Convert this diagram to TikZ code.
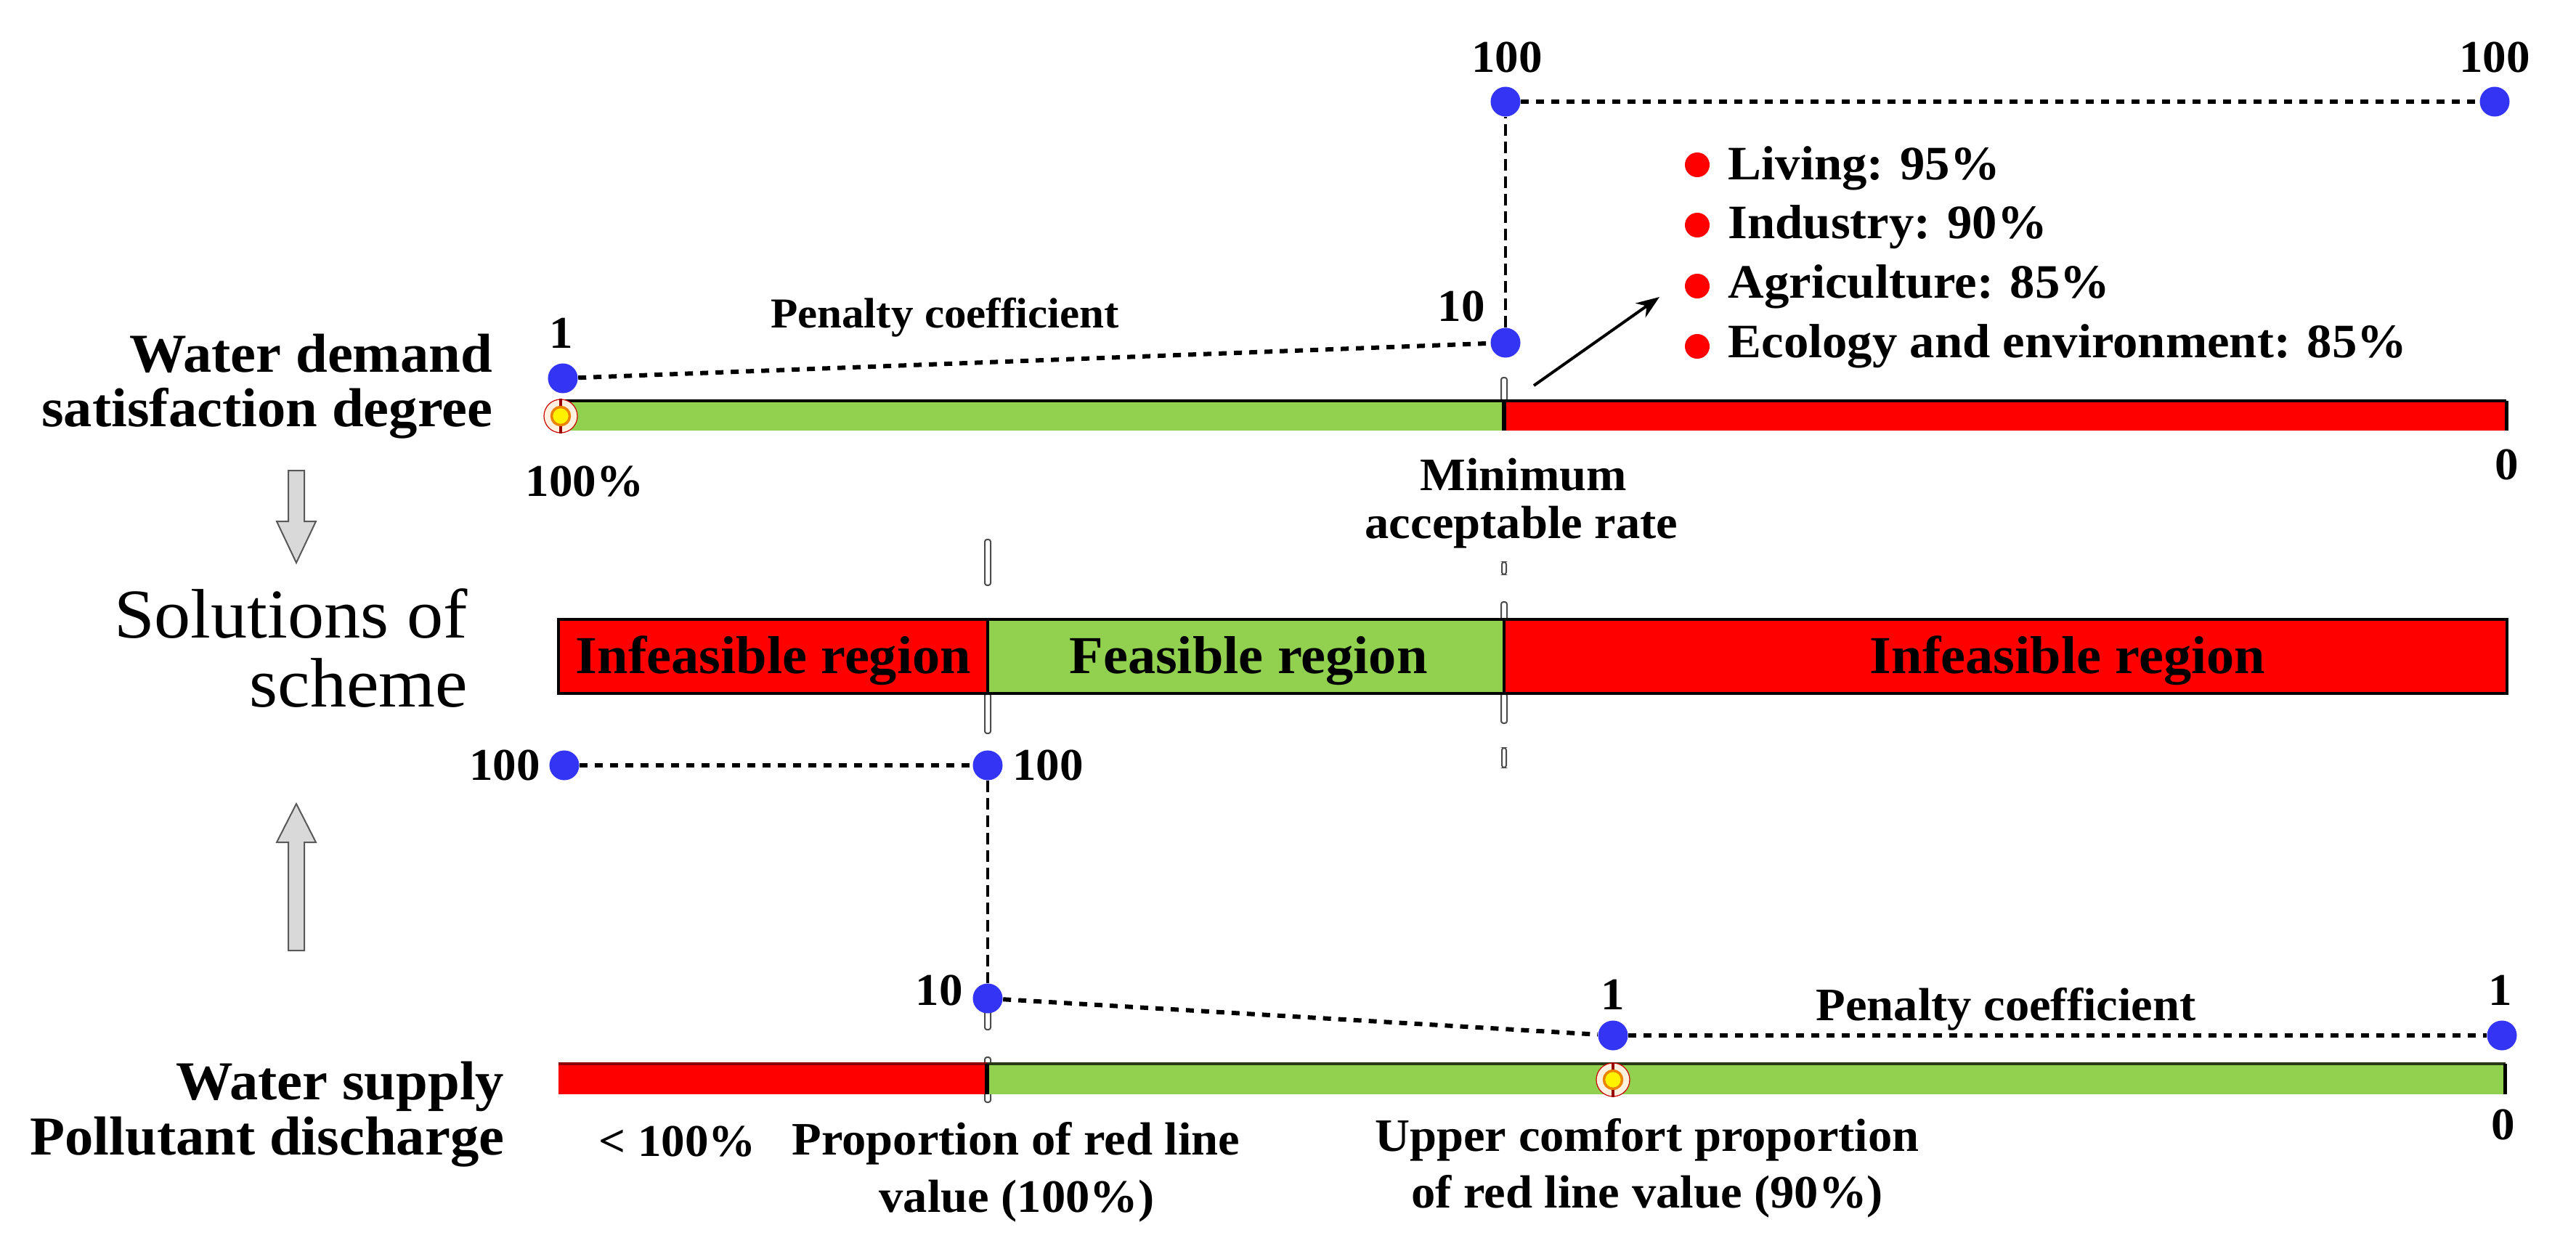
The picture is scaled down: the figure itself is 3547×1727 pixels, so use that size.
\documentclass[tikz,border=0pt]{standalone}
\usepackage{fontspec}
\setmainfont{Liberation Serif}[FakeStretch=1.04]
\usetikzlibrary{arrows.meta}
\definecolor{dotblue}{RGB}{52,52,245}
\definecolor{bargreen}{RGB}{146,208,80}
\definecolor{barred}{RGB}{255,0,0}
\definecolor{mkorange}{RGB}{235,130,0}
\definecolor{arrgrey}{RGB}{217,217,217}
\begin{document}
\begin{tikzpicture}[x=0.01cm,y=-0.01cm,
  num/.style={font=\bfseries\fontsize{17.8}{20}\selectfont, inner sep=0, anchor=base},
  lbl/.style={font=\bfseries\fontsize{18.2}{20}\selectfont, inner sep=0, anchor=base},
  bul/.style={font=\bfseries\fontsize{18.8}{20}\selectfont, inner sep=0, anchor=base west},
  side/.style={font=\bfseries\fontsize{21.5}{24}\selectfont, inner sep=0, anchor=base east},
  big/.style={font=\fontsize{27.4}{30}\selectfont, inner sep=0, anchor=base east},
  reg/.style={font=\bfseries\fontsize{20.9}{24}\selectfont, inner sep=0, anchor=base},
  bdot/.style={circle, fill=dotblue, inner sep=0, minimum size=0.41cm},
  rdot/.style={circle, fill=barred, inner sep=0, minimum size=0.34cm},
  dotline/.style={line width=0.06cm, dash pattern=on 0.11cm off 0.10cm},
  vdash/.style={line width=0.04cm, dash pattern=on 0.16cm off 0.08cm},
  tickrect/.style={fill=white, draw=black!70, line width=0.02cm, rounded corners=0.03cm},
  seg/.style={inner sep=0, outer sep=0},
  mkout/.style={circle, draw=red!80!black, line width=0.012cm, minimum size=0.46cm, inner sep=0, fill=orange!12},
  mkin/.style={circle, draw=mkorange, line width=0.035cm, fill=yellow, minimum size=0.25cm, inner sep=0},
  blockarrow/.style={fill=arrgrey, draw=black!65, line width=0.02cm}
]
\useasboundingbox (0,0) rectangle (3547,1727);

% ---------- tick rectangles (divider extensions) ----------
\draw[tickrect] (2067,520) rectangle (2075,552);
\draw[tickrect] (2068,774) rectangle (2074,791);
\draw[tickrect] (2067,829) rectangle (2075,854);
\draw[tickrect] (2067,955) rectangle (2075,996);
\draw[tickrect] (2068,1030) rectangle (2074,1057);
\draw[tickrect] (1356,743) rectangle (1364,806);
\draw[tickrect] (1356,955) rectangle (1364,1010);
\draw[tickrect] (1356,1378) rectangle (1364,1418);
\draw[tickrect] (1356,1456) rectangle (1364,1518);

% ---------- top bar ----------
\node[seg, fill=bargreen, minimum width=13.00cm, minimum height=0.41cm] (tbG) at (1421,572.5) {};
\node[seg, fill=barred, minimum width=13.80cm, minimum height=0.41cm] (tbR) at (2761,572.5) {};
\draw[line width=0.04cm] (tbG.north west) -- (tbR.north east);
\draw[line width=0.05cm] (tbR.north east) -- (tbR.south east);
\draw[line width=0.06cm] (tbR.north west) -- (tbR.south west);
\draw[line width=0.05cm, red!60!black] (tbG.north west) -- (tbG.south west);

% ---------- middle bar ----------
\node[seg, draw=black, line width=0.04cm, fill=barred, minimum width=5.91cm, minimum height=1.02cm] (mbL) at (1064.5,904) {};
\node[seg, draw=black, line width=0.04cm, fill=bargreen, minimum width=7.11cm, minimum height=1.02cm] (mbM) at (1715.5,904) {};
\node[seg, draw=black, line width=0.04cm, fill=barred, minimum width=13.81cm, minimum height=1.02cm] (mbR) at (2761.5,904) {};
\node[reg] (r1) at (1065,927) {Infeasible region};
\node[reg] (r2) at (1719,927) {Feasible region};
\node[reg] (r3) at (2847,927) {Infeasible region};

% ---------- bottom bar ----------
\node[seg, fill=barred, minimum width=5.91cm, minimum height=0.42cm] (bbR) at (1064.5,1486) {};
\node[seg, fill=bargreen, minimum width=20.89cm, minimum height=0.42cm] (bbG) at (2404.5,1486) {};
\draw[line width=0.04cm, red!55!black] (bbR.north west) -- (bbR.north east);
\draw[line width=0.04cm, black!55!bargreen!60!black] (bbG.north west) -- (bbG.north east);
\draw[line width=0.05cm] (bbG.north east) -- (bbG.south east);
\draw[line width=0.06cm] (bbG.north west) -- (bbG.south west);

% ---------- markers ----------
\node[mkout] (mk1o) at (772,573) {};
\node[mkin] (mk1) at (772,573) {};
\draw[line width=0.04cm, red!60!black] (mk1o.north) -- (mk1.north);
\draw[line width=0.04cm, red!60!black] (mk1.south) -- (mk1o.south);
\node[mkout] (mk2o) at (2221,1487) {};
\node[mkin] (mk2) at (2221,1487) {};
\draw[line width=0.04cm, red!60!black] (mk2o.north) -- (mk2.north);
\draw[line width=0.04cm, red!60!black] (mk2.south) -- (mk2o.south);

% ---------- top penalty curve ----------
\node[bdot] (t1) at (775,521) {};
\node[bdot] (t10) at (2073,472) {};
\node[bdot] (t100a) at (2073,140) {};
\node[bdot] (t100b) at (3435,140) {};
\draw[dotline] (t1) -- (t10);
\draw[vdash] (t10) -- (t100a);
\draw[dotline] (t100a) -- (t100b);
\node[num] (lt1) at (773,479) {1};
\node[num] (lt10) at (2012,442) {10};
\node[num] (lt100a) at (2075,100) {100};
\node[num] (lt100b) at (3435,100) {100};
\node[font=\bfseries\fontsize{16.7}{20}\selectfont, inner sep=0, anchor=base] (pen1) at (1301,451) {Penalty coefficient};

% ---------- bullets ----------
\node[rdot] (d1) at (2337,227) {};
\node[rdot] (d2) at (2337,310) {};
\node[rdot] (d3) at (2337,394) {};
\node[rdot] (d4) at (2337,477) {};
\node[bul] (b1) at (2379,247) {Living: 95\%};
\node[bul] (b2) at (2379,328) {Industry: 90\%};
\node[bul] (b3) at (2379,410) {Agriculture: 85\%};
\node[bul] (b4) at (2379,492) {Ecology and environment: 85\%};
\coordinate (aS) at (2112,531);
\coordinate (aE) at (2285,409);
\draw[line width=0.04cm, -{Stealth[length=0.32cm,width=0.24cm]}] (aS) -- (aE);

% ---------- top labels ----------
\node[lbl] (min1) at (2098,675) {Minimum};
\node[lbl] (min2) at (2095,741) {acceptable rate};
\node[num] (p100) at (805,683) {100\%};
\node[num] (z1) at (3452,660) {0};
\node[side] (wd1) at (679,512) {Water demand};
\node[side] (wd2) at (679,587) {satisfaction degree};
\node[big] (so1) at (645,878) {Solutions of};
\node[big] (so2) at (645,973) {scheme};

% ---------- block arrows ----------
\draw[blockarrow] (397,648) -- (419,648) -- (419,718) -- (435,718) -- (408,775) -- (381,718) -- (397,718) -- cycle;
\draw[blockarrow] (408,1107) -- (435,1160) -- (419,1160) -- (419,1309) -- (397,1309) -- (397,1160) -- (381,1160) -- cycle;

% ---------- bottom penalty curve ----------
\node[bdot] (u100a) at (777,1054) {};
\node[bdot] (u100b) at (1360,1054) {};
\node[bdot] (u10) at (1360,1375) {};
\node[bdot] (u1a) at (2221,1426) {};
\node[bdot] (u1b) at (3445,1426) {};
\draw[dotline] (u100a) -- (u100b);
\draw[vdash] (u100b) -- (u10);
\draw[dotline] (u10) -- (u1a);
\draw[dotline] (u1a) -- (u1b);
\node[num] (lu100a) at (695,1074) {100};
\node[num] (lu100b) at (1443,1074) {100};
\node[num] (lu10) at (1293,1384) {10};
\node[num] (lu1a) at (2221,1390) {1};
\node[num] (lu1b) at (3443,1384) {1};
\node[lbl] (pen2) at (2762,1405) {Penalty coefficient};

% ---------- bottom labels ----------
\node[side] (ws1) at (695,1514) {Water supply};
\node[side] (ws2) at (695,1590) {Pollutant discharge};
\node[num] (lt100) at (933,1592) {< 100\%};
\node[lbl] (pr1) at (1399,1590) {Proportion of red line};
\node[lbl] (pr2) at (1400,1669) {value (100\%)};
\node[lbl] (up1) at (2268,1585) {Upper comfort proportion};
\node[lbl] (up2) at (2268,1663) {of red line value (90\%)};
\node[num] (z2) at (3447,1569) {0};
\end{tikzpicture}
\end{document}
